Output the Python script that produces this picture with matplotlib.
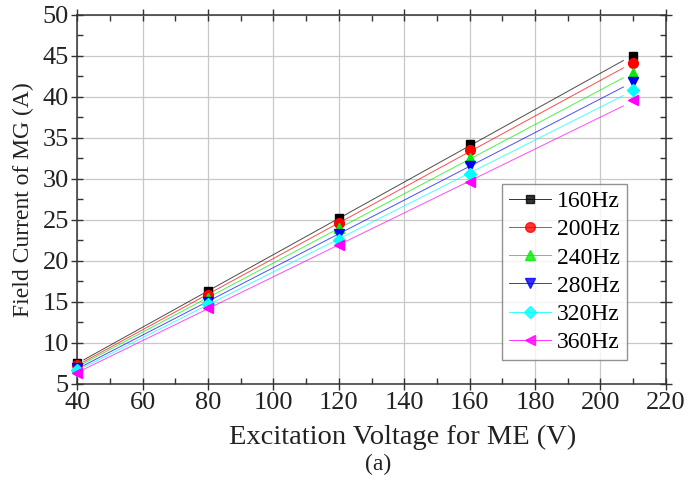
import matplotlib.pyplot as plt
from matplotlib.lines import Line2D
from matplotlib.ticker import MultipleLocator
import numpy as np

plt.rcParams['font.family'] = ['Liberation Serif', 'DejaVu Serif']

voltage = [40, 80, 120, 160, 210]
freqs = ['160Hz', '200Hz', '240Hz', '280Hz', '320Hz', '360Hz']
current_160 = [7.5, 16.3, 25.2, 34.2, 45.0]
current_200 = [7.3, 15.9, 24.6, 33.5, 44.1]
current_240 = [7.1, 15.5, 24.0, 32.5, 42.9]
current_280 = [6.9, 15.0, 23.3, 31.6, 41.8]
current_320 = [6.7, 14.7, 22.6, 30.6, 40.9]
current_360 = [6.4, 14.3, 21.9, 29.6, 39.6]
series = [current_160, current_200, current_240, current_280, current_320, current_360]

colors = ['black', 'red', '#00ee00', 'blue', 'cyan', 'magenta']
markers = ['s', 'o', '^', 'v', 'D', '<']
msizes = [6, 7, 7, 7, 6, 7]

fig = plt.figure(figsize=(6.9, 4.8), dpi=100)
ax = fig.add_axes([0.112, 0.2, 0.853, 0.769])

x = np.array(voltage, dtype=float)
xfit = np.linspace(42, 207, 50)
handles = []
for ys, c, m, ms, lab in zip(series, colors, markers, msizes, freqs):
    # straight-line fit through the measured points
    k, b = np.polyfit(x, ys, 1)
    ax.plot(xfit, k * xfit + b, color=c, lw=0.7, alpha=0.7, zorder=2)
    ax.plot(x, ys, ls='none', marker=m, color=c, ms=ms, clip_on=False, zorder=3)
    handles.append(Line2D([], [], color=c, lw=0.7, alpha=0.8, marker=m, ms=ms,
                          markeredgecolor=c, markerfacecolor=c, label=lab))

ax.set_xlim(40, 220)
ax.set_ylim(5, 50)
ax.xaxis.set_major_locator(MultipleLocator(20))
ax.xaxis.set_minor_locator(MultipleLocator(10))
ax.yaxis.set_major_locator(MultipleLocator(5))
ax.yaxis.set_minor_locator(MultipleLocator(2.5))
ax.tick_params(which='major', direction='inout', length=8, width=1, labelsize=19,
               top=True, right=True, colors='#333333', labelcolor='#222222', pad=2)
ax.tick_params(which='minor', direction='in', length=4, width=1,
               top=True, right=True, colors='#333333')
ax.grid(True, which='major', color='#c8c8c8', lw=0.9)
ax.set_axisbelow(True)
for sp in ax.spines.values():
    sp.set_color('#333333')
    sp.set_linewidth(1.1)

ax.set_xlabel('Excitation Voltage for ME (V)', fontsize=20.5, color='#222222')
ax.xaxis.set_label_coords(0.553, -0.11)
ax.set_ylabel('Field Current of MG (A)', fontsize=17, color='#222222', labelpad=6)
fig.text(0.548, 0.032, '(a)', ha='center', va='center', fontsize=17, color='#222222')

leg = ax.legend(handles=handles, loc='lower right', bbox_to_anchor=(0.934, 0.065),
                fontsize=17, frameon=True, fancybox=False, edgecolor='#777777',
                handlelength=1.8, labelspacing=0.28, borderpad=0.3,
                handletextpad=0.25, borderaxespad=0)
leg.get_frame().set_linewidth(1.0)

fig.savefig('out.png', dpi=100, facecolor='white')
